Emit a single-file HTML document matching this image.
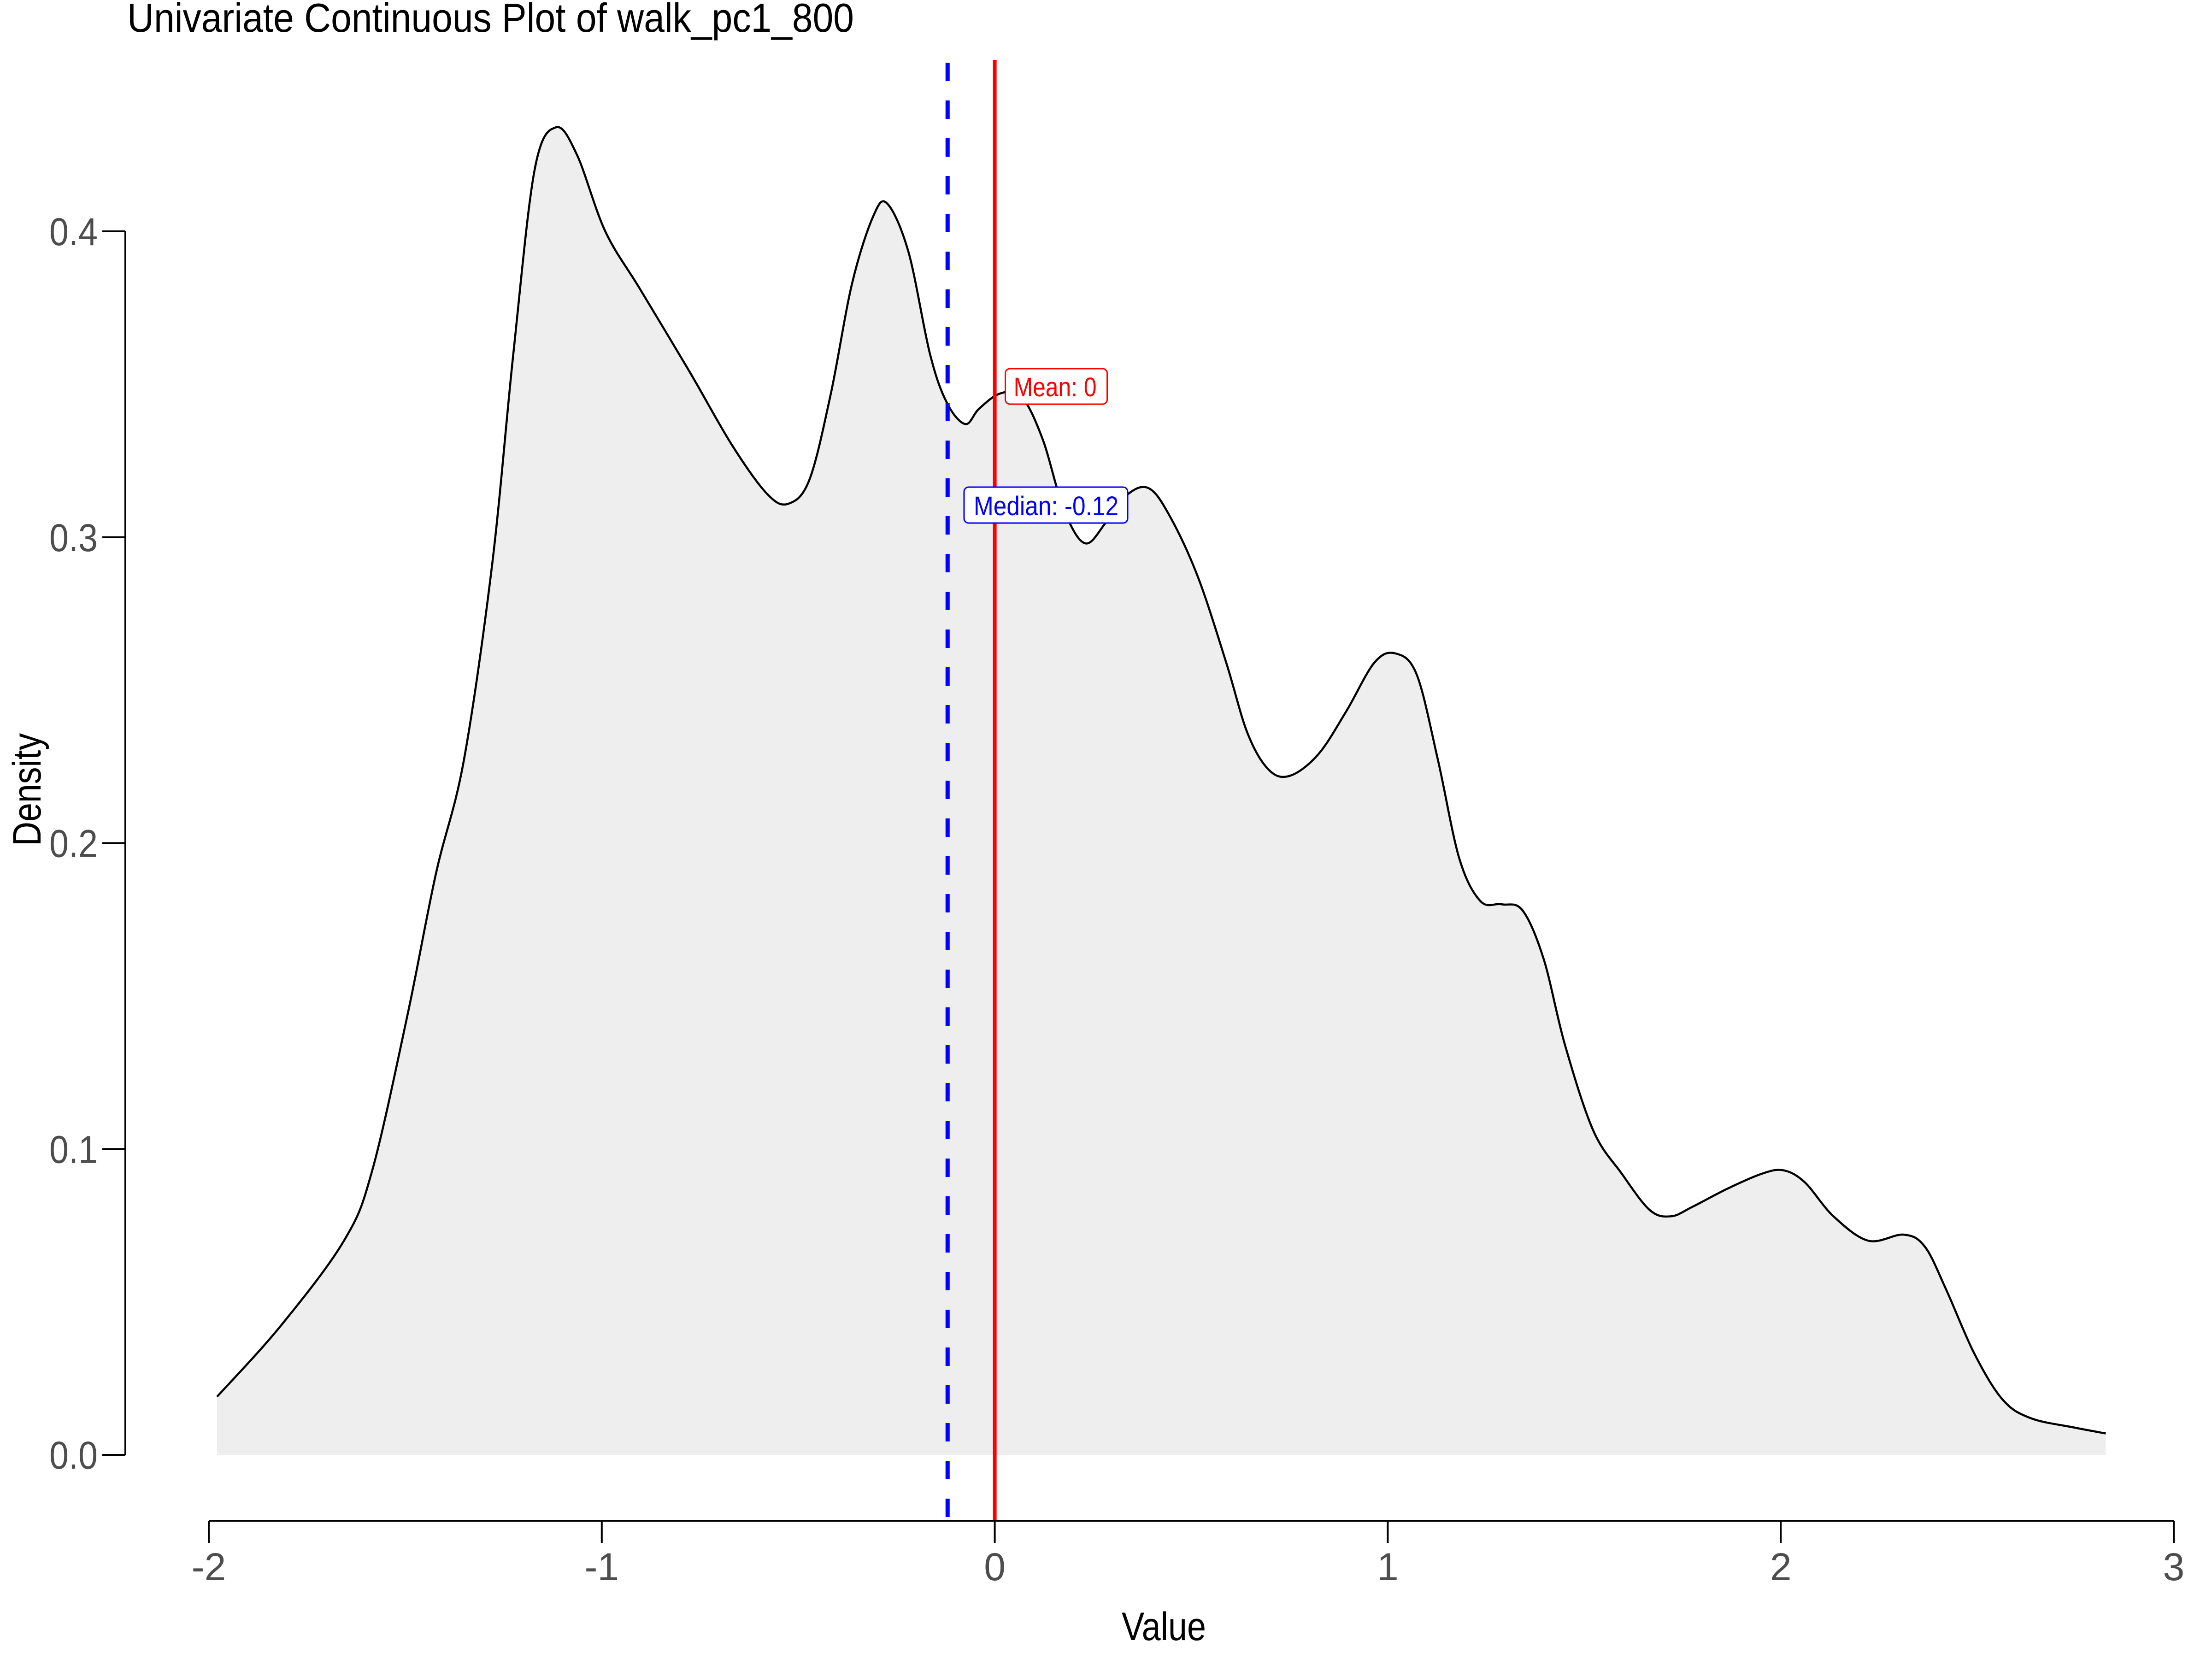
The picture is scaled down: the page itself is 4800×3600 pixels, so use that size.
<!DOCTYPE html>
<html><head><meta charset="utf-8"><style>
html,body{margin:0;padding:0;background:#fff;}
svg{display:block;font-family:"Liberation Sans Narrow","Liberation Sans",sans-serif;}
</style></head><body>
<svg id="chart" width="4800" height="3600" viewBox="0 0 4800 3600" xmlns="http://www.w3.org/2000/svg">
<text x="276" y="69" font-size="88" fill="#000" textLength="1577" lengthAdjust="spacingAndGlyphs">Univariate Continuous Plot of walk_pc1_800</text>
<g id="plot"></g>
</svg>
<script>
const xValues = [-1.979,-1.818,-1.656,-1.584,-1.494,-1.422,-1.351,-1.279,-1.225,-1.171,-1.117,-1.063,-0.991,-0.902,-0.776,-0.668,-0.578,-0.524,-0.471,-0.417,-0.363,-0.309,-0.273,-0.219,-0.165,-0.122,-0.075,-0.040,0.014,0.068,0.122,0.176,0.230,0.284,0.338,0.392,0.445,0.517,0.589,0.643,0.697,0.751,0.823,0.894,0.966,1.020,1.074,1.128,1.182,1.236,1.290,1.343,1.397,1.451,1.523,1.595,1.667,1.721,1.774,1.864,1.954,2.008,2.062,2.134,2.223,2.313,2.367,2.421,2.493,2.565,2.636,2.744,2.827];
const densityValues = [0.019,0.042,0.070,0.093,0.144,0.190,0.227,0.291,0.360,0.420,0.434,0.425,0.400,0.381,0.354,0.330,0.314,0.311,0.319,0.347,0.383,0.405,0.409,0.393,0.360,0.344,0.337,0.342,0.347,0.346,0.332,0.309,0.298,0.305,0.314,0.316,0.307,0.287,0.259,0.236,0.224,0.222,0.229,0.243,0.259,0.262,0.255,0.227,0.195,0.181,0.180,0.178,0.162,0.134,0.106,0.092,0.080,0.078,0.081,0.087,0.092,0.093,0.089,0.078,0.070,0.072,0.068,0.054,0.033,0.018,0.012,0.009,0.007];
const xTicks = [-2,-1,0,1,2,3];
const yTicks = [0.0,0.1,0.2,0.3,0.4];
const yTickLabels = ["0.0","0.1","0.2","0.3","0.4"];
const meanValue = 0;
const medianValue = -0.12;

const NS = "http://www.w3.org/2000/svg";
const X0 = 453, X1 = 4717, Y0 = 3157, Y4 = 502;
const sx = v => X0 + (v - (-2)) / 5 * (X1 - X0);
const sy = v => Y0 - v / 0.4 * (Y0 - Y4);
const g = document.getElementById('plot');
function mk(tag, attrs, parent) {
  const e = document.createElementNS(NS, tag);
  for (const k in attrs) e.setAttribute(k, attrs[k]);
  (parent || g).appendChild(e);
  return e;
}
const pts = xValues.map((x, i) => [sx(x), sy(densityValues[i])]);
let d = "M" + pts[0][0] + "," + pts[0][1];
for (let i = 0; i < pts.length - 1; i++) {
  const p0 = pts[Math.max(0, i - 1)], p1 = pts[i], p2 = pts[i + 1], p3 = pts[Math.min(pts.length - 1, i + 2)];
  const c1 = [p1[0] + (p2[0] - p0[0]) / 6, p1[1] + (p2[1] - p0[1]) / 6];
  const c2 = [p2[0] - (p3[0] - p1[0]) / 6, p2[1] - (p3[1] - p1[1]) / 6];
  d += " C" + c1[0] + "," + c1[1] + " " + c2[0] + "," + c2[1] + " " + p2[0] + "," + p2[1];
}
const area = mk('path', {d: d + " L" + pts[pts.length-1][0] + "," + sy(0) + " L" + pts[0][0] + "," + sy(0) + " Z", fill: "#eeeeee", stroke: "none"});


const line = mk('path', {d: d, fill: "none", stroke: "#000", "stroke-width": 4.5});



const med = mk('line', {x1: sx(medianValue), x2: sx(medianValue), y1: 136, y2: 3300, stroke: "#0000ff", "stroke-width": 9, "stroke-dasharray": "40 42"});


const mean = mk('line', {x1: sx(meanValue), x2: sx(meanValue), y1: 130, y2: 3300, stroke: "#ff0000", "stroke-width": 8});



const mg = mk('g', {});


mk('rect', {x: sx(meanValue) + 23, y: 800, width: 221, height: 77, rx: 10, fill: "#fff", stroke: "#ff0000", "stroke-width": 3}, mg);
const mt = mk('text', {x: sx(meanValue) + 41, y: 860, "font-size": 58, fill: "#ff0000", textLength: 180, lengthAdjust: "spacingAndGlyphs"}, mg);
mt.textContent = "Mean: " + meanValue;
const dg = mk('g', {});


mk('rect', {x: 2092, y: 1057, width: 355, height: 78, rx: 10, fill: "#fff", stroke: "#0000ff", "stroke-width": 3}, dg);
const dt = mk('text', {x: 2113, y: 1118, "font-size": 58, fill: "#0000ff", textLength: 314, lengthAdjust: "spacingAndGlyphs"}, dg);
dt.textContent = "Median: " + medianValue;

const ya = mk('line', {x1: 272, x2: 272, y1: sy(0), y2: sy(0.4), stroke: "#000", "stroke-width": 4});


yTicks.forEach((v, i) => {
  const t = mk('line', {x1: 222, x2: 272, y1: sy(v), y2: sy(v), stroke: "#000", "stroke-width": 4});
  
  
  const l = mk('text', {x: 107, y: sy(v) + 30, "font-size": 84, fill: "#4d4d4d", textLength: 105, lengthAdjust: "spacingAndGlyphs"});
  
  
  l.textContent = yTickLabels[i];
});
const xa = mk('line', {x1: sx(-2), x2: sx(3), y1: 3300, y2: 3300, stroke: "#000", "stroke-width": 4});


xTicks.forEach(v => {
  const t = mk('line', {x1: sx(v), x2: sx(v), y1: 3300, y2: 3348, stroke: "#000", "stroke-width": 4});
  
  
  const l = mk('text', {x: sx(v), y: 3429, "font-size": 84, fill: "#4d4d4d", "text-anchor": "middle"});
  
  
  l.textContent = String(v);
});
const xt = mk('text', {x: 2434, y: 3559, "font-size": 86, fill: "#000", textLength: 183, lengthAdjust: "spacingAndGlyphs"});


xt.textContent = "Value";
const yt = mk('text', {x: 0, y: 0, "font-size": 86, fill: "#000", textLength: 245, lengthAdjust: "spacingAndGlyphs", transform: "translate(88,1836) rotate(-90)"});


yt.textContent = "Density";
</script>
</body></html>
